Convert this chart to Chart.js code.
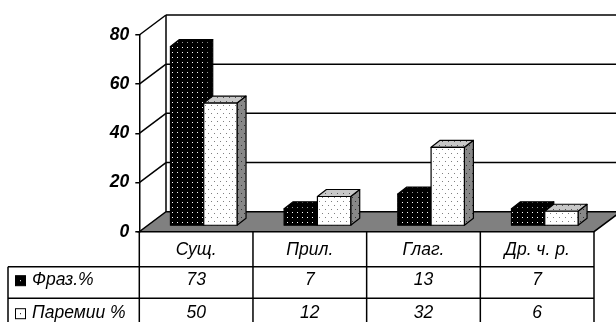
<!DOCTYPE html>
<html>
<head>
<meta charset="utf-8">
<script src="https://cdn.jsdelivr.net/npm/chart.js@4/dist/chart.umd.min.js"></script>
<style>
  html, body { margin: 0; padding: 0; background: #fff; }
  #wrap { width: 616px; height: 322px; }
</style>
</head>
<body>
<div id="wrap"><canvas id="c" width="616" height="322"></canvas></div>
<script>
// Parts of speech and their shares (%)
const categories = ['Сущ.', 'Прил.', 'Глаг.', 'Др. ч. р.'];
const phrasValues = [73, 7, 13, 7];
const paremValues = [50, 12, 32, 6];
const seriesNames = ['Фраз.%', 'Паремии %'];
const yTicks = [0, 20, 40, 60, 80];

const FONT = "'Liberation Sans', Arial, sans-serif";
const FONT_SIZE = 17.5;

// Small dotted fill tiles
function makePattern(w, h, bg, dot, dots) {
  const c = document.createElement('canvas');
  c.width = w; c.height = h;
  const g = c.getContext('2d');
  g.fillStyle = bg; g.fillRect(0, 0, w, h);
  g.fillStyle = dot;
  dots.forEach(([x, y]) => g.fillRect(x, y, 1, 1));
  return c;
}

// 3-D geometry: wall depth, bar front plane offset and bar thickness
const WALL = { dx: 26.7, dy: -20 };
const BAR_OFF = { dx: 7.6, dy: -5.7 };
const BAR_D = { dx: 9, dy: -7 };

const faces = [
  { // dark series
    front: makePattern(5, 5, '#000', '#fff', [[2, 2]]),
    top: makePattern(5, 5, '#000', '#999', [[2, 2]]),
    side: makePattern(5, 5, '#000', '#999', [[2, 2]])
  },
  { // light series
    front: makePattern(6, 8, '#fff', '#808080', [[1, 1], [4, 5]]),
    top: makePattern(6, 8, '#c8c8c8', '#555', [[1, 1], [4, 5]]),
    side: makePattern(6, 8, '#888', '#333', [[1, 1], [4, 5]])
  }
];

function poly(ctx, pts, fill) {
  ctx.beginPath();
  ctx.moveTo(pts[0][0], pts[0][1]);
  for (let i = 1; i < pts.length; i++) ctx.lineTo(pts[i][0], pts[i][1]);
  ctx.closePath();
  if (fill) { ctx.fillStyle = fill; ctx.fill(); }
  ctx.stroke();
}

function line(ctx, x1, y1, x2, y2) {
  ctx.beginPath(); ctx.moveTo(x1, y1); ctx.lineTo(x2, y2); ctx.stroke();
}

const scene3d = {
  id: 'scene3d',
  beforeDatasetsDraw(chart) {
    const { ctx, chartArea: a, scales: { y } } = chart;
    ctx.save();
    ctx.strokeStyle = '#000';
    ctx.lineWidth = 1.5;
    const y0 = y.getPixelForValue(0);
    const yMax = y.getPixelForValue(yTicks[yTicks.length - 1]);
    // side wall diagonals and back wall grid lines
    yTicks.forEach(v => {
      const py = y.getPixelForValue(v);
      if (v > 0) {
        line(ctx, a.left, py, a.left + WALL.dx, py + WALL.dy);
        line(ctx, a.left + WALL.dx, py + WALL.dy, chart.width + 5, py + WALL.dy);
      }
    });
    // back wall left edge
    line(ctx, a.left + WALL.dx, yMax + WALL.dy, a.left + WALL.dx, y0 + WALL.dy);
    // floor
    poly(ctx, [
      [a.left, y0], [a.right, y0],
      [a.right + WALL.dx, y0 + WALL.dy], [a.left + WALL.dx, y0 + WALL.dy]
    ], '#808080');
    ctx.restore();
  },
  afterDatasetsDraw(chart) {
    const { ctx } = chart;
    ctx.save();
    ctx.strokeStyle = '#000';
    ctx.lineWidth = 1.2;
    ctx.lineJoin = 'round';
    const n = categories.length;
    for (let j = 0; j < n; j++) {
      for (let i = 0; i < chart.data.datasets.length; i++) {
        const el = chart.getDatasetMeta(i).data[j];
        const f = faces[i];
        const l = el.x - el.width / 2 + BAR_OFF.dx;
        const r = el.x + el.width / 2 + BAR_OFF.dx;
        const t = el.y + BAR_OFF.dy;
        const b = el.base + BAR_OFF.dy;
        // side face
        poly(ctx, [[r, b], [r + BAR_D.dx, b + BAR_D.dy], [r + BAR_D.dx, t + BAR_D.dy], [r, t]],
          ctx.createPattern(f.side, 'repeat'));
        // top face
        poly(ctx, [[l, t], [r, t], [r + BAR_D.dx, t + BAR_D.dy], [l + BAR_D.dx, t + BAR_D.dy]],
          ctx.createPattern(f.top, 'repeat'));
        // front face
        poly(ctx, [[l, t], [r, t], [r, b], [l, b]], ctx.createPattern(f.front, 'repeat'));
      }
    }
    ctx.restore();
  },
  afterDraw(chart) {
    // data table under the plot
    const { ctx, chartArea: a, scales: { x, y } } = chart;
    const y0 = y.getPixelForValue(0);
    const colW = (a.right - a.left) / categories.length;
    const rowTop = [y0, y0 + 35, y0 + 66.6];
    const rowMid = [y0 + 48.5, y0 + 81.5];
    const tableLeft = 8;
    ctx.save();
    ctx.strokeStyle = '#000';
    ctx.lineWidth = 1.5;
    // front axis continues down through the table
    line(ctx, a.left, y0, a.left, chart.height + 2);
    // right border
    line(ctx, a.right, y0, a.right, chart.height + 2);
    // column separators
    for (let j = 1; j < categories.length; j++) {
      const cx = a.left + colW * j;
      line(ctx, cx, y0, cx, chart.height + 2);
    }
    // row lines
    line(ctx, tableLeft, rowTop[1], a.right, rowTop[1]);
    line(ctx, tableLeft, rowTop[2], a.right, rowTop[2]);
    line(ctx, tableLeft, rowTop[1], tableLeft, chart.height + 2);

    ctx.fillStyle = '#000';
    ctx.font = 'italic ' + FONT_SIZE + 'px ' + FONT;
    ctx.textAlign = 'center';
    ctx.textBaseline = 'middle';
    categories.forEach((c, j) => {
      ctx.fillText(c, x.getPixelForValue(j), y0 + 18);
    });
    const rows = [phrasValues, paremValues];
    rows.forEach((vals, i) => {
      vals.forEach((v, j) => ctx.fillText(String(v), x.getPixelForValue(j), rowMid[i]));
    });
    // legend keys and series names
    ctx.textAlign = 'left';
    rows.forEach((vals, i) => {
      const cy = rowMid[i];
      ctx.lineWidth = 1;
      ctx.fillStyle = i === 0 ? '#000' : '#fff';
      ctx.fillRect(15.5, cy - 4.5, 10, 10);
      ctx.strokeRect(15.5, cy - 4.5, 10, 10);
      ctx.fillStyle = i === 0 ? '#fff' : '#000';
      ctx.fillRect(20, cy, 1, 1);
      ctx.fillStyle = '#000';
      ctx.fillText(seriesNames[i], 32, cy);
    });
    ctx.restore();
  }
};

new Chart(document.getElementById('c'), {
  type: 'bar',
  data: {
    labels: categories,
    datasets: [
      { label: seriesNames[0], data: phrasValues, backgroundColor: 'rgba(0,0,0,0)', borderWidth: 0 },
      { label: seriesNames[1], data: paremValues, backgroundColor: 'rgba(0,0,0,0)', borderWidth: 0 }
    ]
  },
  options: {
    responsive: false,
    animation: false,
    events: [],
    layout: { padding: { left: 0, right: 22, top: 35, bottom: 90.3 } },
    datasets: { bar: { categoryPercentage: 0.586, barPercentage: 1 } },
    plugins: { legend: { display: false }, tooltip: { enabled: false } },
    scales: {
      x: { display: false },
      y: {
        min: 0, max: 80,
        afterFit(s) { s.width = 139.3; },
        ticks: {
          stepSize: 20, padding: 6, color: '#000',
          font: { family: FONT, size: FONT_SIZE, style: 'italic', weight: 'bold' }
        },
        grid: { drawOnChartArea: false, drawTicks: true, tickLength: 4, color: '#000', lineWidth: 1.5 },
        border: { display: true, color: '#000', width: 1.5 }
      }
    }
  },
  plugins: [scene3d]
});
</script>
</body>
</html>
